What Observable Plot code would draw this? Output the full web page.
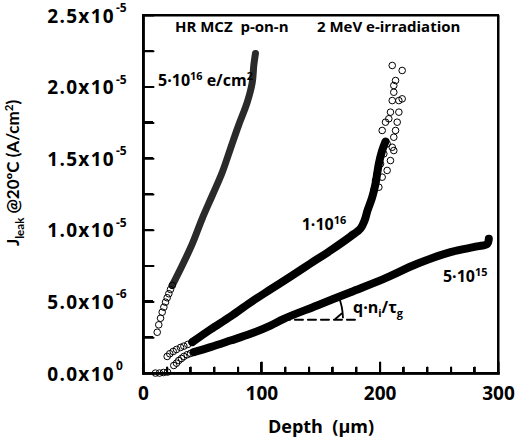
<!DOCTYPE html>
<html><head><meta charset="utf-8">
<script src="https://cdn.jsdelivr.net/npm/d3@7"></script>
<script src="https://cdn.jsdelivr.net/npm/@observablehq/plot@0.6"></script>
<style>body{margin:0;background:#fff}#chart{position:relative;width:517px;height:444px}#chart .fr{position:absolute;background:#000;pointer-events:none}</style>
</head><body><div id="chart"></div>
<script>
// ---- axes ----
const xDomain = [0, 300];
const yDomain = [0, 25]; // ×1e-6
const xTicks = [0, 100, 200, 300];
const xMinorTicks = [20, 40, 60, 80, 120, 140, 160, 180, 220, 240, 260, 280];
const yTicks = [0, 5e-6, 1e-5, 1.5e-5, 2e-5, 2.5e-5];
const yMinorTicks = [2.5e-6, 7.5e-6, 1.25e-5, 1.75e-5, 2.25e-5];
const yTickMantissa = ["0.0x10", "5.0x10", "1.0x10", "1.5x10", "2.0x10", "2.5x10"];
const yTickExponent = ["0", "-6", "-5", "-5", "-5", "-5"];

// ---- data: [depth µm, Jleak ×1e-6 A/cm²] ----
// 5e16 e/cm2
const aDots = [[11.6,2.88],[12.9,3.40],[14.4,3.86],[15.8,4.28],[17.2,4.63],[18.6,4.98],[20.0,5.29],[21.4,5.57],[22.8,5.87],[24.3,6.15]];
const aBand = [[24.3,6.15],[32.7,7.54],[41.2,9.05],[49.6,10.82],[58.1,12.43],[66.5,14.04],[73.5,15.71],[80.3,17.32],[87.6,18.92],[91.9,20.32],[93.2,21.51],[94.6,22.35]];
// 1e16 e/cm2
const bDots = [[20.0,1.19],[22.2,1.38],[25.1,1.54],[27.9,1.68],[31.3,1.82],[34.1,1.91],[37.4,2.03],[41.2,2.19]];
const bBand = [[41.2,2.19],[56.6,3.07],[73.5,3.98],[90.4,4.96],[107.3,5.87],[124.2,6.77],[141.1,7.68],[158.0,8.59],[174.9,9.57],[183.4,10.13],[186.8,10.68],[189.3,11.38],[193.3,12.31],[196.1,13.27],[197.5,13.97],[198.9,14.66],[201.7,15.57],[204.5,16.2]];
const bScatter = [[210.2,21.51],[218.6,21.16],[213.0,20.46],[211.5,20.11],[211.5,19.64],[210.2,19.06],[215.8,19.06],[218.6,19.18],[208.7,18.25],[215.8,18.25],[207.3,17.79],[204.5,17.55],[201.7,16.97],[214.4,17.55],[213.0,16.97],[211.5,16.50],[210.2,15.80],[211.5,15.57],[205.9,16.04],[203.1,15.34],[200.3,14.64],[197.5,13.95],[208.7,14.87],[205.9,14.18],[201.7,13.71],[196.1,13.48],[198.9,13.01],[194.6,12.78]];
// 5e15 e/cm2
const cDots = [[10.1,0.03],[13.5,0.03],[16.9,0.07],[20.3,0.10],[25.6,0.56],[27.9,0.72],[29.8,0.91],[32.1,1.05],[34.1,1.19],[36.9,1.31],[39.7,1.40],[42.5,1.49]];
const cBand = [[42.5,1.49],[56.6,1.84],[73.5,2.30],[90.4,2.77],[107.3,3.35],[118.6,3.82],[146.8,4.75],[174.9,5.68],[203.1,6.61],[231.3,7.66],[259.4,8.47],[282.0,8.87],[290.5,9.06],[291.8,9.41]];

// ---- annotations ----
const qLine = [[117, 3.75], [181, 3.75]];
const qArcX = 169;
const annoX = [27.0, 147.0, 12.7, 134.1, 253.5, 177.5];
const annoY = [23.81, 23.81, 20.04, 9.99, 6.35, 4.19];
const annoSize = [15, 15, 16, 16, 16, 16];
const annoParts = [
  [["HR MCZ  p-on-n", ""]],
  [["2 MeV e-irradiation", ""]],
  [["5·10", ""], ["16", "sup"], [" e/cm", ""], ["2", "sup"]],
  [["1·10", ""], ["16", "sup"]],
  [["5·10", ""], ["15", "sup"]],
  [["q·n", ""], ["i", "sub"], ["/", ""], ["τ", ""], ["g", "sub"]]
];
const yTitleParts = [["J", ""], ["leak", "sub"], [" @20ºC (A/cm", ""], ["2", "sup"], [")", ""]];
const xTitle = "Depth  (μm)";

const FONT = "'Open Sans', sans-serif";
const px = d => d[0], py = d => d[1] * 1e-6;

// frame outline and inward tick segments, built from the domain and tick arrays
const [x0, x1] = xDomain, [y0, y1] = yDomain.map(v => v * 1e-6);
const yPerPx = (y1 - y0) / 358, xPerPx = (x1 - x0) / 355;
const frameBorder = [[x0, y0], [x1, y0], [x1, y1], [x0, y1], [x0, y0]].map(([x, y]) => ({x, y}));
const tickSegs = [];
xMinorTicks.forEach((v, i) => tickSegs.push({x: v, y: y0, id: "xm" + i}, {x: v, y: y0 + 6 * yPerPx, id: "xm" + i}));
xTicks.forEach((v, i) => tickSegs.push({x: v, y: y0, id: "xM" + i}, {x: v, y: y0 + 11 * yPerPx, id: "xM" + i}));
yTicks.concat(yMinorTicks).forEach((v, i) => tickSegs.push({x: x0, y: v, id: "y" + i}, {x: x0 + 10 * xPerPx, y: v, id: "y" + i}));
const axisLines = [{x: x0, y: y1, id: "l"}, {x: x0, y: y0, id: "l"}, {x: x0, y: y0, id: "b"}, {x: x1, y: y0, id: "b"}];

function addParts(text, parts, size) {
  let shift = 0;
  for (const [s, k] of parts) {
    const target = k === "sup" ? -size * 0.38 : k === "sub" ? size * 0.28 : 0;
    text.append("tspan").attr("dy", target - shift).attr("font-size", k ? size * 0.68 : size).text(s);
    shift = target;
  }
}

const overlayMark = (index, scales) => {
  const L = scales.x(x0), T = scales.y(y1);
  const root = d3.create("svg:g");
  const cx = scales.x(qLine[0][0]), cy = scales.y(qLine[0][1] * 1e-6);
  const r = scales.x(qArcX) - cx;
  const p1 = cBand[5], p2 = cBand[7];
  const ang = Math.atan2(scales.y(p2[1] * 1e-6) - scales.y(p1[1] * 1e-6), scales.x(p2[0]) - scales.x(p1[0]));
  const ex = cx + r * Math.cos(ang), ey = cy + r * Math.sin(ang);
  root.append("path").attr("d", `M${cx + r},${cy - 1}A${r},${r} 0 0 0 ${ex},${ey}M${cx + r - 8},${cy}L${cx + r - 1},${cy - 6}`)
    .attr("stroke", "black").attr("fill", "none").attr("stroke-width", 1.8);
  const g = root.append("g").attr("font-family", FONT).attr("font-weight", "bold").attr("fill", "black").attr("text-anchor", "start").style("white-space", "pre");
  yTicks.forEach((v, i) => {
    const y = scales.y(v);
    g.append("text").attr("x", L - 28).attr("y", y + 7.5).attr("text-anchor", "end").attr("font-size", 19).attr("letter-spacing", 1.3).text(yTickMantissa[i]);
    g.append("text").attr("x", L - 27).attr("y", y - 3).attr("text-anchor", "start").attr("font-size", 12).text(yTickExponent[i]);
  });
  annoParts.forEach((parts, i) => {
    const t = g.append("text").attr("x", scales.x(annoX[i])).attr("y", scales.y(annoY[i] * 1e-6)).attr("font-size", annoSize[i]).attr("text-anchor", "start");
    addParts(t, parts, annoSize[i]);
  });
  const yt = g.append("text").attr("transform", `translate(${L - 124},${T + 158}) rotate(-90)`)
    .attr("text-anchor", "middle").attr("font-family", "Lato").attr("font-size", 17);
  addParts(yt, yTitleParts, 17);
  return root.node();
};

const dotOpts = {x: px, y: py, r: 3.3, stroke: "black", strokeWidth: 1, fill: "none"};
const bandOpts = (w, c) => ({x: px, y: py, stroke: c, strokeWidth: w, curve: "catmull-rom", strokeLinecap: "round", strokeLinejoin: "round"});

const plot = Plot.plot({
  width: 517, height: 444,
  marginLeft: 143, marginRight: 19, marginTop: 15, marginBottom: 71,
  x: {domain: xDomain, axis: null},
  y: {domain: [y0, y1], axis: null},
  style: {fontFamily: FONT, background: "white"},
  marks: [
    Plot.line(aBand, bandOpts(7, "#2a2a2a")),
    Plot.line(bBand, bandOpts(8, "black")),
    Plot.line(cBand, bandOpts(8, "black")),
    Plot.dot(aDots, dotOpts),
    Plot.dot(bDots, dotOpts),
    Plot.dot(cDots, dotOpts),
    Plot.dot(bScatter, dotOpts),
    Plot.line(qLine, {x: px, y: py, stroke: "black", strokeWidth: 2, strokeDasharray: "8,5"}),
    Plot.line(frameBorder, {x: "x", y: "y", stroke: "black", strokeWidth: 2}),
    Plot.line(axisLines, {x: "x", y: "y", z: "id", stroke: "black", strokeWidth: 2.6, strokeLinecap: "square"}),
    Plot.line(tickSegs, {x: "x", y: "y", z: "id", stroke: "black", strokeWidth: 2}),
    Plot.text(xTicks, {x: d => d, text: d => String(d), frameAnchor: "bottom", dy: 26, fontSize: 19, fontWeight: "bold", fill: "black"}),
    Plot.text([xTitle], {text: d => d, frameAnchor: "bottom", dy: 59, fontSize: 18, fontWeight: "bold", fill: "black"}),
    overlayMark
  ]
});
const chart = document.getElementById("chart");
chart.appendChild(plot);

// frame and inward ticks again, placed from the plot's own scales (layered above the SVG)
(function () {
  const sx = plot.scale("x"), sy = plot.scale("y");
  const fx = v => sx.apply ? sx.apply(v) : sx.range[0] + (v - sx.domain[0]) / (sx.domain[1] - sx.domain[0]) * (sx.range[1] - sx.range[0]);
  const fy = v => sy.apply ? sy.apply(v) : sy.range[0] + (v - sy.domain[0]) / (sy.domain[1] - sy.domain[0]) * (sy.range[1] - sy.range[0]);
  const L = fx(x0), R = fx(x1), T = fy(y1), B = fy(y0);
  const bar = (l, t, w, h) => {
    const d = document.createElement("div");
    d.className = "fr";
    d.style.left = l + "px"; d.style.top = t + "px"; d.style.width = w + "px"; d.style.height = h + "px";
    chart.appendChild(d);
  };
  bar(L - 1.3, T - 1, 2.6, B - T + 2.3);
  bar(L - 1.3, B - 1.3, R - L + 2.3, 2.6);
  bar(L - 1, T - 1, R - L + 2, 2);
  bar(R - 1, T - 1, 2, B - T + 2);
  for (const v of xMinorTicks) bar(fx(v) - 1, B - 6, 2, 6);
  for (const v of xTicks) bar(fx(v) - 1, B - 11, 2, 11);
  for (const v of yTicks.concat(yMinorTicks)) bar(L, fy(v) - 1, 10, 2);
})();
</script></body></html>
